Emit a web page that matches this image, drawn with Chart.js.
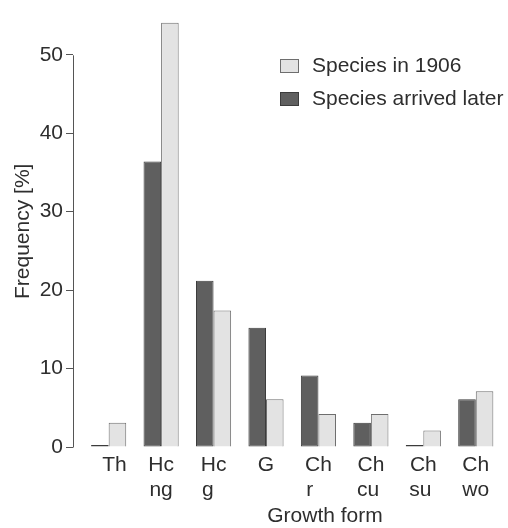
<!DOCTYPE html>
<html>
<head>
<meta charset="utf-8">
<script src="https://cdn.jsdelivr.net/npm/chart.js@4.4.1/dist/chart.umd.min.js"></script>
<style>
    html, body { margin: 0; padding: 0; background: #ffffff; }
    #wrap { width: 508px; height: 528px; }
</style>
</head>
<body>
<div id="wrap"><canvas id="growthFormChart" width="508" height="528"></canvas></div>
<script>
// Growth form categories (multi-line tick labels, trailing spaces keep the 2nd line left-ish)
const categories = [
    ['  Th'],
    ['Hc', 'ng'],
    ['Hc', 'g  '],
    ['G'],
    ['Ch', 'r   '],
    ['Ch', 'cu '],
    ['Ch', 'su '],
    ['Ch', 'wo']
];

// Frequency [%] per growth form
const arrivedLater = [0, 36.4, 21.2, 15.2, 9.1, 3.1, 0, 6.1];
const in1906 = [3.1, 54.1, 17.4, 6.1, 4.2, 4.2, 2.1, 7.1];

const yTicks = [0, 10, 20, 30, 40, 50];
const xTitle = 'Growth form';

const textColor = '#2e2e2e';
const fontFamily = "'Liberation Sans', Arial, sans-serif";

function renderGrowthFormChart() {
    const ctx = document.getElementById('growthFormChart');

    // Linear x so the first group can sit a bit away from the y axis line
    const toPoints = arr => arr.map((v, i) => ({ x: i, y: v }));

    // Y axis line only spans the labelled ticks (0..50)
    const yAxisLine = {
        id: 'yAxisLine',
        afterDraw(chart) {
            const c = chart.ctx;
            const yScale = chart.scales.y;
            const x = Math.round(chart.chartArea.left) + 0.5;
            c.save();
            c.strokeStyle = '#555555';
            c.lineWidth = 1;
            c.beginPath();
            c.moveTo(x, yScale.getPixelForValue(yTicks[0]) + 0.5);
            c.lineTo(x, yScale.getPixelForValue(yTicks[yTicks.length - 1]) + 0.5);
            c.stroke();
            c.restore();
        }
    };

    // X title sits right of the axis centre in the original
    const xAxisTitle = {
        id: 'xAxisTitle',
        afterDraw(chart) {
            const c = chart.ctx;
            c.save();
            c.font = '21px ' + fontFamily;
            c.fillStyle = textColor;
            c.textAlign = 'center';
            c.textBaseline = 'middle';
            c.fillText(xTitle, 325, 516);
            c.restore();
        }
    };

    // Legend drawn inside the plot, light series first
    const cornerLegend = {
        id: 'cornerLegend',
        afterDraw(chart) {
            const c = chart.ctx;
            const order = [1, 0];
            c.save();
            c.font = '21px ' + fontFamily;
            c.textBaseline = 'middle';
            order.forEach((dsIndex, row) => {
                const ds = chart.data.datasets[dsIndex];
                const top = 59 + row * 33;
                c.fillStyle = ds.borderColor;
                c.fillRect(280, top, 19, 14);
                c.fillStyle = ds.backgroundColor;
                c.fillRect(281, top + 1, 17, 12);
                c.fillStyle = textColor;
                c.fillText(ds.label, 312, top + 7);
            });
            c.restore();
        }
    };

    window.growthFormChart = new Chart(ctx, {
        type: 'bar',
        data: {
            datasets: [
                {
                    label: 'Species arrived later',
                    data: toPoints(arrivedLater),
                    backgroundColor: '#5f5f5f',
                    borderColor: '#3c3c3c',
                    borderWidth: 1,
                    borderSkipped: false,
                    minBarLength: 2
                },
                {
                    label: 'Species in 1906',
                    data: toPoints(in1906),
                    backgroundColor: '#e3e3e3',
                    borderColor: '#6e6e6e',
                    borderWidth: 1
                }
            ]
        },
        plugins: [yAxisLine, xAxisTitle, cornerLegend],
        options: {
            responsive: false,
            animation: false,
            categoryPercentage: 0.67,
            barPercentage: 1.0,
            layout: {
                padding: { top: 3, right: 6, bottom: 0, left: 0 }
            },
            scales: {
                x: {
                    type: 'linear',
                    offset: false,
                    min: -0.68,
                    max: 7.5,
                    ticks: {
                        stepSize: 1,
                        includeBounds: false,
                        autoSkip: false,
                        maxRotation: 0,
                        padding: 5,
                        color: textColor,
                        font: { family: fontFamily, size: 21, lineHeight: 1.22 },
                        callback: value => categories[value] ?? ''
                    },
                    grid: { display: false, drawTicks: false, offset: false },
                    border: { display: false },
                    title: { display: false },
                    afterFit: scale => { scale.height = 81; }
                },
                y: {
                    min: 0,
                    max: 55,
                    ticks: {
                        stepSize: 10,
                        includeBounds: false,
                        padding: 3,
                        color: textColor,
                        font: { family: fontFamily, size: 21 }
                    },
                    grid: {
                        drawOnChartArea: false,
                        drawTicks: true,
                        tickLength: 7,
                        color: '#555555'
                    },
                    border: { display: false },
                    title: {
                        display: true,
                        text: 'Frequency [%]',
                        color: textColor,
                        font: { family: fontFamily, size: 21, lineHeight: 1.2 },
                        padding: { top: 11, bottom: 0 }
                    },
                    afterFit: scale => { scale.width = 73; }
                }
            },
            plugins: {
                legend: { display: false },
                title: { display: false },
                tooltip: { enabled: false }
            }
        }
    });
}

renderGrowthFormChart();
</script>
</body>
</html>
